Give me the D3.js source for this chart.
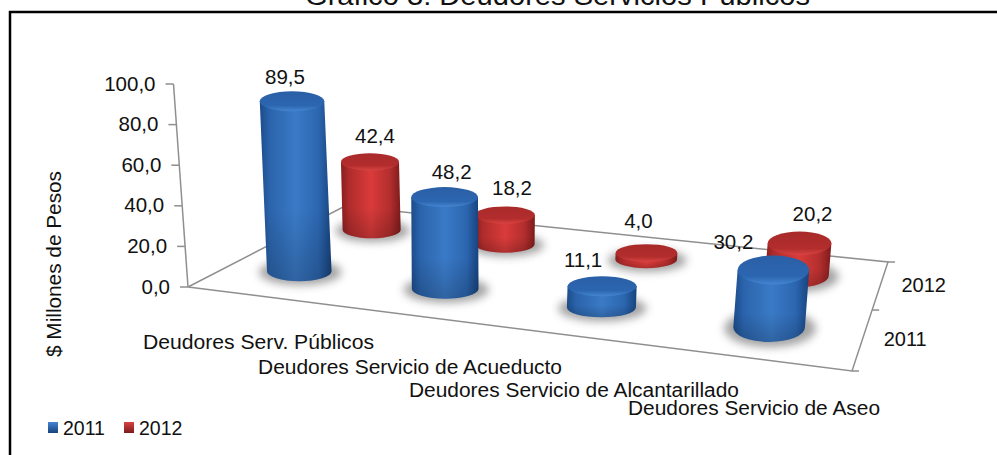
<!DOCTYPE html>
<html>
<head>
<meta charset="utf-8">
<script src="https://cdn.jsdelivr.net/npm/d3@7"></script>
<style>
  html, body { margin: 0; padding: 0; background: #fff; }
  svg { display: block; }
  text { font-family: "Liberation Sans", Arial, sans-serif; fill: #111; }
</style>
</head>
<body>
<div id="chart"></div>
<script>
// data
var categories = ["Deudores Serv. Públicos", "Deudores Servicio de Acueducto", "Deudores Servicio de Alcantarillado", "Deudores Servicio de Aseo"];
var years = ["2011", "2012"];
var values2011 = [89.5, 48.2, 11.1, 30.2];
var values2012 = [42.4, 18.2, 4.0, 20.2];
var yTicks = [0, 20, 40, 60, 80, 100];

var width = 997, height = 455;
var svg = d3.select("#chart").append("svg").attr("width", width).attr("height", height);
var defs = svg.append("defs");

// floor corners of the fake 3d box
var FL = [188, 287], FR = [852, 371], BR = [888, 262], BL = [345, 206];

// unit square -> floor quad
var dx1 = FR[0] - BR[0], dx2 = BL[0] - BR[0], sx = FL[0] - FR[0] + BR[0] - BL[0];
var dy1 = FR[1] - BR[1], dy2 = BL[1] - BR[1], sy = FL[1] - FR[1] + BR[1] - BL[1];
var det = dx1 * dy2 - dx2 * dy1;
var pg = (sx * dy2 - dx2 * sy) / det;
var ph = (dx1 * sy - sx * dy1) / det;
var pa = FR[0] - FL[0] + pg * FR[0], pb = BL[0] - FL[0] + ph * BL[0];
var pd = FR[1] - FL[1] + pg * FR[1], pe = BL[1] - FL[1] + ph * BL[1];
function depth(u, v) { return pg * u + ph * v + 1; }
function project(u, v) {
    var w = depth(u, v);
    return [(pa * u + pb * v + FL[0]) / w, (pd * u + pe * v + FL[1]) / w];
}

// scales
var uScale = d3.scaleBand().domain(categories).range([-0.007, 0.993]);
var vScale = d3.scaleBand().domain(years).range([0, 1]);
var yAxisScale = d3.scaleLinear().domain([0, 100]).range([287, 84]);
var axisX = d3.scaleLinear().domain([0, 100]).range([188, 173.5]);
var barHeight = {
    "2011": d3.scaleLinear().domain([0, 100]).range([0, 190]),
    "2012": d3.scaleLinear().domain([0, 100]).range([0, 160])
};
var radiusK = 33.6;
var capRy = { "2011": [10, 10, 10, 14.5], "2012": [8.6, 8.6, 8.8, 11.8] };
// label offsets from the top of each cylinder, placed by hand like in the original
var labelDx = { "2011": [-7, 7, -19, -40], "2012": [5, 7, -8, 13] };
var labelDy = { "2011": [-14, -15, -16, -14], "2012": [-17, -18, -23, -18] };
var leanK = 0.00025, leanCenter = 470;

var commaFormat = d3.formatLocale({ decimal: ",", thousands: ".", grouping: [3], currency: ["$", ""] }).format(".1f");

// gradients
var palette = {
    "2011": { body: ["#1c4b8a", "#2b64ac", "#3a7ac6", "#2c66b0", "#17437d"], cap: ["#2a5fa6", "#2c66b0", "#4586d2"] },
    "2012": { body: ["#8a1e1f", "#b02c2c", "#d93b3a", "#b32e2e", "#7e1a1b"], cap: ["#a92a2a", "#b32d2d", "#d84442"] }
};
years.forEach(function (yr) {
    var c = palette[yr];
    var g = defs.append("linearGradient").attr("id", "body" + yr);
    [0, 0.14, 0.5, 0.82, 1].forEach(function (o, i) {
        g.append("stop").attr("offset", o).attr("stop-color", c.body[i]);
    });
    var cap = defs.append("linearGradient").attr("id", "cap" + yr).attr("x2", 0).attr("y2", 1);
    [0, 0.72, 1].forEach(function (o, i) {
        cap.append("stop").attr("offset", o).attr("stop-color", c.cap[i]);
    });
    var leg = defs.append("linearGradient").attr("id", "leg" + yr).attr("x2", 0).attr("y2", 1);
    leg.append("stop").attr("offset", 0).attr("stop-color", c.cap[2]);
    leg.append("stop").attr("offset", 1).attr("stop-color", c.body[4]);
});
var fade = defs.append("linearGradient").attr("id", "baseFade").attr("x2", 0).attr("y2", 1);
fade.append("stop").attr("offset", 0.6).attr("stop-color", "#000").attr("stop-opacity", 0);
fade.append("stop").attr("offset", 1).attr("stop-color", "#000").attr("stop-opacity", 0.18);
defs.append("filter").attr("id", "blur")
    .attr("x", "-30%").attr("y", "-50%").attr("width", "160%").attr("height", "200%")
    .append("feGaussianBlur").attr("stdDeviation", 4);

// frame, only the top and left edges are in the crop
svg.append("path")
    .attr("d", "M997,12H10V455")
    .attr("fill", "none").attr("stroke", "#000").attr("stroke-width", 2.5);

// title, cut off at the top of the picture
svg.append("text")
    .attr("x", 305).attr("y", 5)
    .attr("font-size", 28)
    .attr("textLength", 505).attr("lengthAdjust", "spacingAndGlyphs")
    .text("Gráfico 3: Deudores Servicios Públicos");

// floor
var lineColor = "#8f8f8f";
svg.append("path")
    .attr("d", d3.line()([FL, FR, BR, BL, FL]))
    .attr("fill", "none").attr("stroke", lineColor).attr("stroke-width", 1.5);

// y axis: d3 axis for ticks, then every tick moved onto the slanted line
var yAxis = svg.append("g")
    .attr("class", "yAxis")
    .call(d3.axisLeft(yAxisScale).tickValues(yTicks).tickFormat(commaFormat).tickSize(8).tickPadding(10));
yAxis.select(".domain").remove();
yAxis.selectAll(".tick")
    .attr("transform", function (d) { return "translate(" + axisX(d) + "," + yAxisScale(d) + ")"; });
yAxis.selectAll(".tick line").attr("stroke", lineColor).attr("stroke-width", 1.5);
yAxis.selectAll(".tick text").attr("font-size", 20.5).attr("font-family", null).attr("fill", "#111");
yAxis.attr("font-family", null).attr("font-size", null);
svg.append("line")
    .attr("x1", axisX(0)).attr("y1", yAxisScale(0))
    .attr("x2", axisX(100)).attr("y2", yAxisScale(100))
    .attr("stroke", lineColor).attr("stroke-width", 1.5);

// depth axis ticks
[0, 0.5, 1].forEach(function (v) {
    var p = project(1, v);
    svg.append("line")
        .attr("x1", p[0]).attr("y1", p[1]).attr("x2", p[0] + 7).attr("y2", p[1])
        .attr("stroke", lineColor).attr("stroke-width", 1.5);
});
svg.selectAll(".depthLabel")
    .data(years)
    .enter().append("text")
    .attr("class", "depthLabel")
    .attr("x", function (d) { return project(1, vScale(d) + vScale.bandwidth() / 2)[0] + 21; })
    .attr("y", function (d) { return project(1, vScale(d) + vScale.bandwidth() / 2)[1] + 7; })
    .attr("font-size", 20)
    .text(function (d) { return d; });

// build cylinders, back row first
var bars = [];
[["2012", values2012], ["2011", values2011]].forEach(function (row) {
    row[1].forEach(function (val, i) {
        var u = uScale(categories[i]) + uScale.bandwidth() / 2;
        var v = vScale(row[0]) + vScale.bandwidth() / 2;
        var base = project(u, v);
        var h = barHeight[row[0]](val);
        bars.push({
            year: row[0], value: val, i: i,
            bx: base[0], by: base[1],
            tx: base[0] + (base[0] - leanCenter) * leanK * h,
            ty: base[1] - h,
            rx: radiusK / depth(u, v),
            ry: capRy[row[0]][i]
        });
    });
});

function bodyPath(d) {
    return "M" + (d.tx - d.rx) + "," + d.ty +
        "L" + (d.bx - d.rx) + "," + d.by +
        "A" + d.rx + "," + d.ry + " 0 0 0 " + (d.bx + d.rx) + "," + d.by +
        "L" + (d.tx + d.rx) + "," + d.ty + "Z";
}

var cyl = svg.selectAll(".cyl").data(bars).enter().append("g").attr("class", "cyl");
cyl.append("ellipse")
    .attr("cx", function (d) { return d.bx + 1; })
    .attr("cy", function (d) { return d.by + 1; })
    .attr("rx", function (d) { return d.rx * 1.28; })
    .attr("ry", function (d) { return d.ry * 1.3; })
    .attr("fill", "#666")
    .attr("opacity", 0.6)
    .attr("filter", "url(#blur)");
cyl.append("path").attr("d", bodyPath).attr("fill", function (d) { return "url(#body" + d.year + ")"; });
cyl.append("path").attr("d", bodyPath).attr("fill", "url(#baseFade)");
cyl.append("ellipse")
    .attr("cx", function (d) { return d.tx; })
    .attr("cy", function (d) { return d.ty; })
    .attr("rx", function (d) { return d.rx; })
    .attr("ry", function (d) { return d.ry; })
    .attr("fill", function (d) { return "url(#cap" + d.year + ")"; });

// value labels on top of everything
svg.selectAll(".valueLabel")
    .data(bars)
    .enter().append("text")
    .attr("class", "valueLabel")
    .attr("text-anchor", "middle")
    .attr("font-size", 20.5)
    .attr("x", function (d) { return d.tx + labelDx[d.year][d.i]; })
    .attr("y", function (d) { return d.ty - d.ry + labelDy[d.year][d.i] + 7; })
    .text(function (d) { return commaFormat(d.value); });

// category labels go down the front edge
var catX = [143, 258, 409, 628], catY = [349, 374, 397, 415], catLen = [231, 304, 330, 252];
svg.selectAll(".catLabel")
    .data(categories)
    .enter().append("text")
    .attr("class", "catLabel")
    .attr("x", function (d, i) { return catX[i]; })
    .attr("y", function (d, i) { return catY[i]; })
    .attr("font-size", 20)
    .attr("textLength", function (d, i) { return catLen[i]; })
    .attr("lengthAdjust", "spacingAndGlyphs")
    .text(function (d) { return d; });

// axis title
svg.append("text")
    .attr("transform", "translate(61,264) rotate(-90)")
    .attr("text-anchor", "middle")
    .attr("font-size", 20)
    .attr("textLength", 186).attr("lengthAdjust", "spacingAndGlyphs")
    .text("$ Millones de Pesos");

// legend
var legendX = d3.scaleOrdinal().domain(years).range([48, 124]);
var legend = svg.selectAll(".legend").data(years).enter().append("g")
    .attr("class", "legend")
    .attr("transform", function (d) { return "translate(" + legendX(d) + ",422)"; });
legend.append("rect")
    .attr("width", 10).attr("height", 11)
    .attr("fill", function (d) { return "url(#leg" + d + ")"; });
legend.append("text")
    .attr("x", 15).attr("y", 13)
    .attr("font-size", 19.5)
    .text(function (d) { return d; });
</script>
</body>
</html>
